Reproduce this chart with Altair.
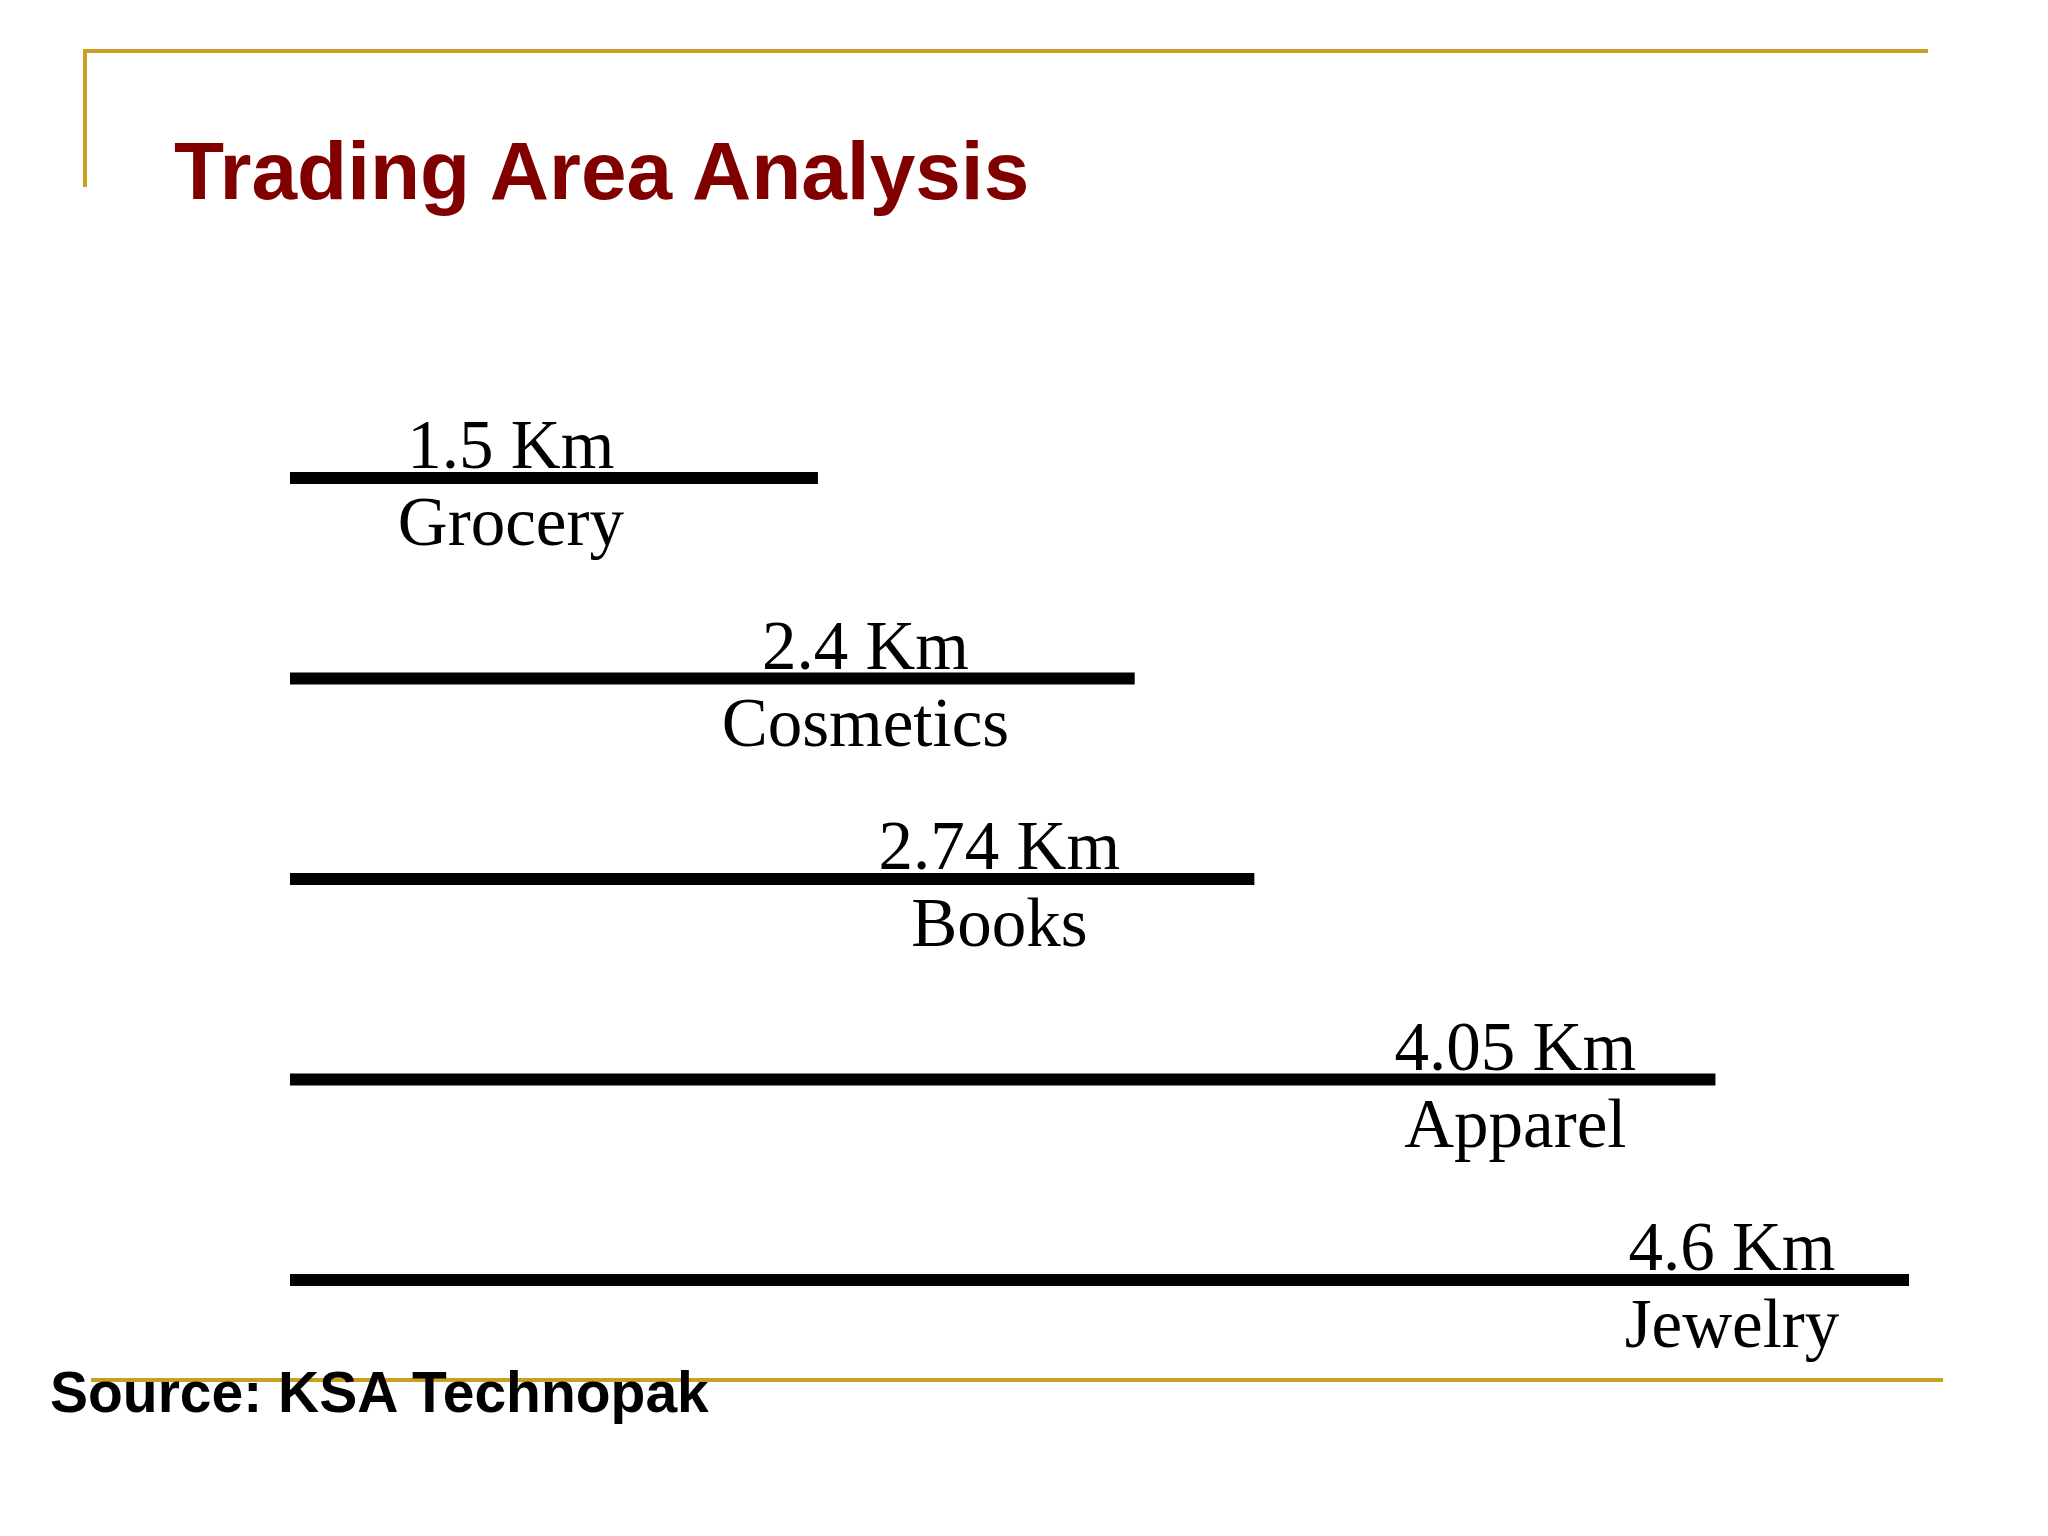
import altair as alt
import pandas as pd

categories = ["Grocery", "Cosmetics", "Books", "Apparel", "Jewelry"]
distances_km = [1.5, 2.4, 2.74, 4.05, 4.6]
value_labels = ["1.5 Km", "2.4 Km", "2.74 Km", "4.05 Km", "4.6 Km"]

df = pd.DataFrame({"category": categories, "km": distances_km, "label": value_labels})

GOLD = "#C9A020"
W, H = 2032, 1512

# scale for the distance bars, and a separate one placing their captions
xs = alt.Scale(domain=[0, 4.6], range=[282, 1901])
xl = alt.Scale(domain=[0, 4.6], range=[-88, 1724])
ys = alt.Scale(type="point", domain=categories, range=[470, 1272], padding=0)

base = alt.Chart(df)

bars = base.mark_rule(color="black", strokeWidth=12, strokeCap="butt").encode(
    x=alt.X("km:Q", scale=xs, axis=None),
    x2=alt.X2(datum=0),
    y=alt.Y("category:N", scale=ys, axis=None, sort=categories),
)

vals = base.mark_text(
    font="Liberation Serif", fontSize=69, color="black",
    align="center", baseline="alphabetic", dy=-10,
).encode(
    x=alt.X("km:Q", scale=xl, axis=None),
    y=alt.Y("category:N", scale=ys, axis=None, sort=categories),
    text="label:N",
)

cats = base.mark_text(
    font="Liberation Serif", fontSize=69, color="black",
    align="center", baseline="alphabetic", dy=67,
).encode(
    x=alt.X("km:Q", scale=xl, axis=None),
    y=alt.Y("category:N", scale=ys, axis=None, sort=categories),
    text="category:N",
)

labels = alt.layer(vals, cats)

deco = pd.DataFrame({"t": ["Trading Area Analysis", "Source: KSA Technopak"]})

top_rule = alt.Chart(deco.head(1)).mark_rule(color=GOLD, strokeWidth=4).encode(
    x=alt.value(75), x2=alt.value(1920), y=alt.value(43)
)
left_rule = alt.Chart(deco.head(1)).mark_rule(color=GOLD, strokeWidth=4).encode(
    x=alt.value(77), y=alt.value(41), y2=alt.value(179)
)
bottom_rule = alt.Chart(deco.head(1)).mark_rule(color=GOLD, strokeWidth=4).encode(
    x=alt.value(83), x2=alt.value(1935), y=alt.value(1372)
)

title = alt.Chart(deco.head(1)).mark_text(
    font="Liberation Sans", fontWeight="bold", fontSize=82, color="#800000",
    align="left", baseline="alphabetic",
).encode(x=alt.value(166), y=alt.value(191), text="t:N")

source = alt.Chart(deco.tail(1)).mark_text(
    font="Liberation Sans", fontWeight="bold", fontSize=57, color="black",
    align="left", baseline="alphabetic",
).encode(x=alt.value(42), y=alt.value(1404), text="t:N")

chart = alt.layer(
    top_rule, left_rule, bottom_rule, bars, labels, title, source
).resolve_scale(x="independent").properties(
    width=W, height=H, padding=0, autosize=alt.AutoSizeParams(type="none"),
    background="white",
).configure_view(stroke=None).configure_scale(pointPadding=0)

chart.save("out.html", embed_options={"renderer": "svg", "actions": False})
